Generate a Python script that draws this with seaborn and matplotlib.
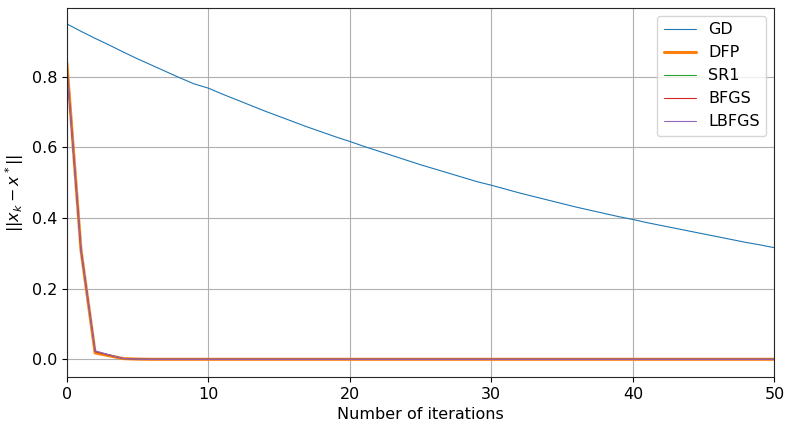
import numpy as np
import pandas as pd
import matplotlib
matplotlib.use("Agg")
import matplotlib.pyplot as plt
import seaborn as sns

sns.set_style("ticks")
plt.rcParams['font.family'] = ['DejaVu Sans']
plt.rcParams['text.color'] = 'black'
plt.rcParams['axes.labelcolor'] = 'black'
plt.rcParams['xtick.color'] = 'black'
plt.rcParams['ytick.color'] = 'black'

iterations = list(range(51))
gd = [0.950, 0.929, 0.909, 0.890, 0.870, 0.851, 0.833, 0.815, 0.797, 0.780,
      0.768, 0.751, 0.735, 0.719, 0.703, 0.688, 0.673, 0.658, 0.644, 0.630,
      0.617, 0.603, 0.590, 0.577, 0.564, 0.551, 0.539, 0.527, 0.515, 0.503,
      0.493, 0.482, 0.471, 0.461, 0.451, 0.441, 0.431, 0.422, 0.413, 0.404,
      0.396, 0.387, 0.379, 0.371, 0.363, 0.355, 0.347, 0.339, 0.331, 0.324, 0.316]
tail = [0.0] * 45
dfp = [0.84, 0.31, 0.018, 0.010, 0.002, 0.0005] + tail
sr1 = [0.83, 0.31, 0.022, 0.012, 0.002, 0.0005] + tail
bfgs = [0.83, 0.31, 0.022, 0.012, 0.002, 0.0005] + tail
lbfgs = [0.83, 0.31, 0.024, 0.013, 0.002, 0.0005] + tail

methods = ['GD', 'DFP', 'SR1', 'BFGS', 'LBFGS']
values = [gd, dfp, sr1, bfgs, lbfgs]
palette = {'GD': '#1f77b4', 'DFP': '#ff7f0e', 'SR1': '#2ca02c',
           'BFGS': '#d62728', 'LBFGS': '#9467bd'}

df = pd.concat([pd.DataFrame({'it': iterations, 'err': v, 'method': m})
                for m, v in zip(methods, values)], ignore_index=True)

fig, ax = plt.subplots(figsize=(8.05, 4.44), dpi=100)
sns.lineplot(data=df, x='it', y='err', hue='method', hue_order=methods,
             palette=palette, ax=ax, linewidth=0.8)
for line, m in zip(ax.lines, methods):
    if m == 'DFP':
        line.set_linewidth(2.2)

ax.set_xlim(0, 50)
ax.set_ylim(-0.05, 0.995)
ax.set_yticks([0.0, 0.2, 0.4, 0.6, 0.8])
ax.grid(True, color='#b0b0b0', linewidth=0.8)
ax.set_xlabel('Number of iterations', fontsize=11.5)
ax.set_ylabel(r'$||x_k - x^*||$', fontsize=11.5)
ax.tick_params(labelsize=11.5)
leg = ax.legend(fontsize=11.5, loc='upper right')
for h in leg.get_lines():
    h.set_linewidth(2.2 if h.get_label() == 'DFP' else 0.8)
fig.subplots_adjust(left=0.083, right=0.962, top=0.982, bottom=0.151)
fig.savefig('out.png', dpi=100)
